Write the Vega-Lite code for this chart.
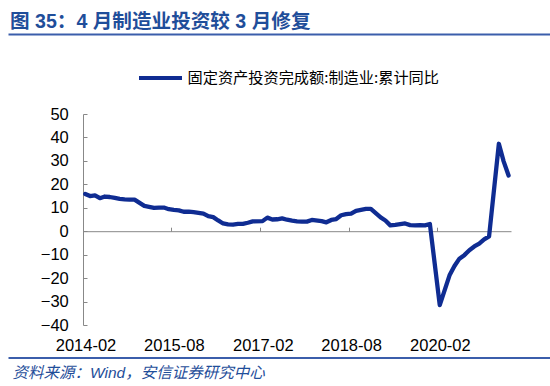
{
  "$schema": "https://vega.github.io/schema/vega-lite/v6.json",
  "autosize": {"type": "none"},
  "width": 428,
  "height": 211,
  "padding": {"left": 83, "top": 114, "right": 39, "bottom": 61},
  "background": "white",
  "config": {"view": {"stroke": null}},
  "title": {
    "text": "图 35：4 月制造业投资较 3 月修复",
    "anchor": "start",
    "frame": "group",
    "dx": -73,
    "offset": 1,
    "font": "Liberation Sans, Noto Sans CJK SC",
    "fontSize": 19.6,
    "fontWeight": "bold",
    "color": "#1f4e9a"
  },
  "data": {
    "values": [
      {"date": "2014-02", "value": 15.9}, {"date": "2014-03", "value": 15.0}, {"date": "2014-04", "value": 15.3},
      {"date": "2014-05", "value": 14.1}, {"date": "2014-06", "value": 14.8}, {"date": "2014-07", "value": 14.6},
      {"date": "2014-08", "value": 14.2}, {"date": "2014-09", "value": 13.8}, {"date": "2014-10", "value": 13.6},
      {"date": "2014-11", "value": 13.5}, {"date": "2014-12", "value": 13.5},
      {"date": "2015-02", "value": 10.8}, {"date": "2015-03", "value": 10.4}, {"date": "2015-04", "value": 10.0},
      {"date": "2015-05", "value": 10.1}, {"date": "2015-06", "value": 10.1}, {"date": "2015-07", "value": 9.4},
      {"date": "2015-08", "value": 9.1}, {"date": "2015-09", "value": 8.9}, {"date": "2015-10", "value": 8.3},
      {"date": "2015-11", "value": 8.4}, {"date": "2015-12", "value": 8.1},
      {"date": "2016-02", "value": 7.5}, {"date": "2016-03", "value": 6.4}, {"date": "2016-04", "value": 6.0},
      {"date": "2016-05", "value": 4.6}, {"date": "2016-06", "value": 3.3}, {"date": "2016-07", "value": 2.9},
      {"date": "2016-08", "value": 2.8}, {"date": "2016-09", "value": 3.1}, {"date": "2016-10", "value": 3.1},
      {"date": "2016-11", "value": 3.6}, {"date": "2016-12", "value": 4.2},
      {"date": "2017-02", "value": 4.3}, {"date": "2017-03", "value": 5.8}, {"date": "2017-04", "value": 5.0},
      {"date": "2017-05", "value": 5.1}, {"date": "2017-06", "value": 5.5}, {"date": "2017-07", "value": 4.9},
      {"date": "2017-08", "value": 4.5}, {"date": "2017-09", "value": 4.2}, {"date": "2017-10", "value": 4.1},
      {"date": "2017-11", "value": 4.1}, {"date": "2017-12", "value": 4.8},
      {"date": "2018-02", "value": 4.3}, {"date": "2018-03", "value": 3.8}, {"date": "2018-04", "value": 4.8},
      {"date": "2018-05", "value": 5.2}, {"date": "2018-06", "value": 6.8}, {"date": "2018-07", "value": 7.3},
      {"date": "2018-08", "value": 7.5}, {"date": "2018-09", "value": 8.7}, {"date": "2018-10", "value": 9.1},
      {"date": "2018-11", "value": 9.5}, {"date": "2018-12", "value": 9.5},
      {"date": "2019-02", "value": 5.9}, {"date": "2019-03", "value": 4.6}, {"date": "2019-04", "value": 2.5},
      {"date": "2019-05", "value": 2.7}, {"date": "2019-06", "value": 3.0}, {"date": "2019-07", "value": 3.3},
      {"date": "2019-08", "value": 2.6}, {"date": "2019-09", "value": 2.5}, {"date": "2019-10", "value": 2.6},
      {"date": "2019-11", "value": 2.5}, {"date": "2019-12", "value": 3.1},
      {"date": "2020-02", "value": -31.5}, {"date": "2020-03", "value": -25.2}, {"date": "2020-04", "value": -18.8},
      {"date": "2020-05", "value": -14.8}, {"date": "2020-06", "value": -11.7}, {"date": "2020-07", "value": -10.2},
      {"date": "2020-08", "value": -8.1}, {"date": "2020-09", "value": -6.5}, {"date": "2020-10", "value": -5.3},
      {"date": "2020-11", "value": -3.5}, {"date": "2020-12", "value": -2.2},
      {"date": "2021-02", "value": 37.3}, {"date": "2021-03", "value": 29.8}, {"date": "2021-04", "value": 23.8}
    ]
  },
  "layer": [
    {
      "mark": {"type": "line", "strokeWidth": 4.3, "strokeJoin": "round", "strokeCap": "round"},
      "encoding": {
        "x": {
          "field": "date",
          "type": "temporal",
          "timeUnit": "utcyearmonth",
          "bandPosition": 0.5,
          "scale": {
            "domain": [
              {"year": 2014, "month": 2, "date": 1, "utc": true},
              {"year": 2021, "month": 5, "date": 1, "utc": true}
            ],
            "nice": false
          },
          "axis": {
            "orient": "top",
            "offset": -117.2,
            "title": null,
            "grid": false,
            "values": [
              {"year": 2014, "month": 2, "date": 1, "utc": true},
              {"year": 2015, "month": 8, "date": 1, "utc": true},
              {"year": 2017, "month": 2, "date": 1, "utc": true},
              {"year": 2018, "month": 8, "date": 1, "utc": true},
              {"year": 2020, "month": 2, "date": 1, "utc": true}
            ],
            "labelExpr": "utcFormat(datum.value, '%Y-%m')",
            "domainColor": "#888888",
            "tickColor": "#888888",
            "tickSize": 4,
            "labelPadding": -117.8,
            "labelBaseline": "middle",
            "labelOffset": 2.5,
            "labelFlush": false,
            "labelOverlap": false,
            "labelBound": false,
            "labelFont": "Liberation Sans",
            "labelFontSize": 16.5,
            "labelColor": "#000000"
          }
        },
        "y": {
          "field": "value",
          "type": "quantitative",
          "scale": {"domain": [-40, 50], "nice": false, "zero": false},
          "axis": {
            "orient": "left",
            "title": null,
            "grid": false,
            "values": [-40, -30, -20, -10, 0, 10, 20, 30, 40, 50],
            "domainColor": "#888888",
            "tickColor": "#888888",
            "tickSize": -4,
            "labelPadding": 18.7,
            "labelFlush": false,
            "labelOverlap": false,
            "labelBound": false,
            "labelFont": "Liberation Sans",
            "labelFontSize": 16.5,
            "labelColor": "#000000"
          }
        },
        "color": {
          "datum": "固定资产投资完成额:制造业:累计同比",
          "scale": {"range": ["#0f2c92"]},
          "legend": {
            "orient": "none",
            "legendX": 54,
            "legendY": -59.5,
            "title": null,
            "padding": 0,
            "symbolType": "stroke",
            "symbolSize": 1849,
            "symbolStrokeWidth": 4,
            "symbolStrokeColor": "#0f2c92",
            "labelFont": "Noto Sans CJK SC",
            "labelFontSize": 15.2,
            "labelColor": "#000000",
            "labelOffset": 3.5,
            "labelLimit": 400
          }
        }
      }
    },
    {
      "mark": {"type": "point", "opacity": 0},
      "encoding": {
        "x": {
          "datum": 0,
          "type": "quantitative",
          "scale": {"domain": [0, 1], "range": [-75, 467]},
          "axis": {
            "orient": "top",
            "offset": 80,
            "title": null,
            "labels": false,
            "ticks": false,
            "grid": false,
            "domainColor": "#3b5eab",
            "domainWidth": 2
          }
        }
      }
    },
    {
      "mark": {"type": "point", "opacity": 0},
      "encoding": {
        "x": {
          "datum": 0,
          "type": "quantitative",
          "scale": {"domain": [0, 1], "range": [-75, 467]},
          "axis": {
            "orient": "bottom",
            "offset": 32.5,
            "labels": false,
            "ticks": false,
            "grid": false,
            "domainColor": "#3b5eab",
            "domainWidth": 2,
            "title": "资料来源：Wind，安信证券研究中心",
            "titleX": -71,
            "titleY": 20,
            "titleAlign": "left",
            "titleBaseline": "alphabetic",
            "titleFont": "Liberation Sans, Noto Sans CJK SC",
            "titleFontSize": 15.5,
            "titleFontStyle": "italic",
            "titleFontWeight": "normal",
            "titleColor": "#1f4e9a"
          }
        }
      }
    }
  ],
  "resolve": {"scale": {"x": "independent"}, "axis": {"x": "independent"}}
}
